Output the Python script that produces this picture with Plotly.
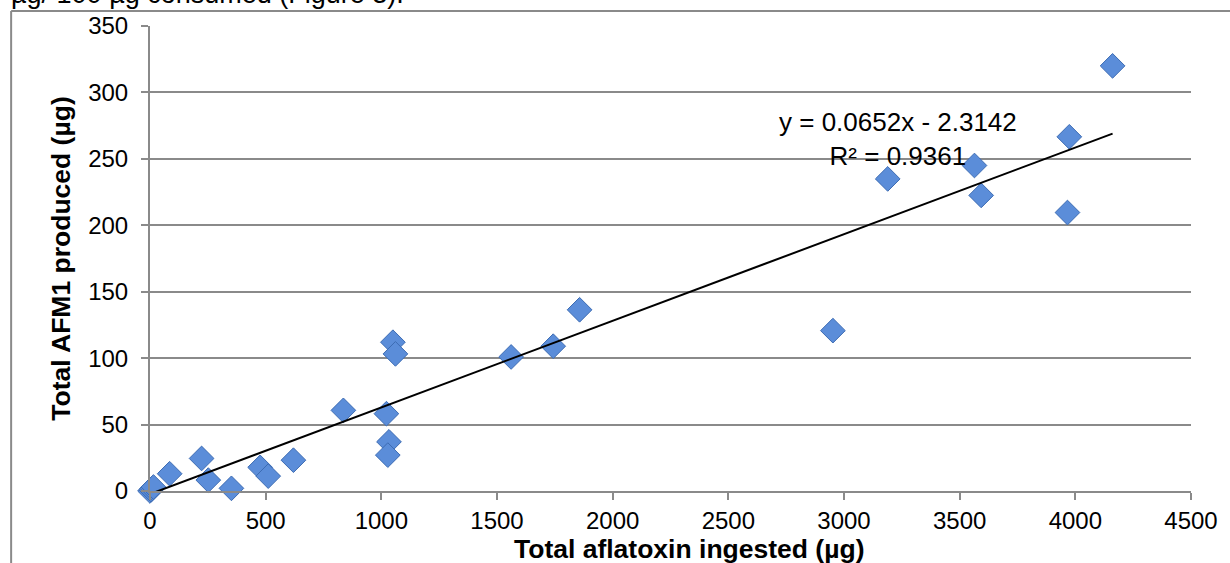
import plotly.graph_objects as go

# Data
ingested = [0, 5, 10, 15, 85, 223, 252, 352, 476, 511, 620, 836, 1022, 1033, 1028,
            1050, 1061, 1561, 1743, 1857, 2952, 3189, 3564, 3593, 3966, 3974, 4161]
afm1 = [0, 1, 2, 3, 13, 24.5, 8.2, 2, 17.8, 11.2, 23.2, 60.7, 58.2, 37, 27,
        112, 103.2, 100.9, 109, 136.4, 120.7, 234.9, 245, 222.5, 209.6, 266.6, 320]

slope = 0.0652
intercept = -2.3142
eq_text = "y = 0.0652x - 2.3142<br>R² = 0.9361"

x_ticks = [0, 500, 1000, 1500, 2000, 2500, 3000, 3500, 4000, 4500]
y_ticks = [0, 50, 100, 150, 200, 250, 300, 350]

trend_x = [0, max(ingested)]
trend_y = [slope * v + intercept for v in trend_x]

GRAY = "#8a8a8a"
FONT = "Liberation Sans, Arial, sans-serif"

fig = go.Figure()
fig.add_trace(go.Scatter(
    x=ingested, y=afm1, mode="markers",
    marker=dict(symbol="diamond", size=19, color="#5b8dd9",
                line=dict(color="#3d6cb3", width=1)),
    cliponaxis=False, showlegend=False))
fig.add_trace(go.Scatter(
    x=trend_x, y=trend_y, mode="lines",
    line=dict(color="black", width=2), showlegend=False, cliponaxis=False))

fig.add_annotation(x=3234, y=265, xref="x", yref="y", text=eq_text,
                   showarrow=False, font=dict(family=FONT, size=26, color="black"),
                   align="center")

# Cropped body text at the top of the page
fig.add_annotation(x=-0.135, y=1.068, xref="paper", yref="paper",
                   text="µg/ 100 µg consumed (Figure 3).", showarrow=False,
                   xanchor="left", yanchor="middle",
                   font=dict(family=FONT, size=27, color="black"))

# X axis title
fig.add_annotation(x=0.518, y=-0.124, xref="paper", yref="paper",
                   text="<b>Total aflatoxin ingested (µg)</b>", yanchor="middle",
                   showarrow=False, font=dict(family=FONT, size=26.5, color="black"))

# Outer frame of the chart area
fig.add_shape(type="line", xref="paper", yref="paper", x0=-0.1334, x1=-0.1334,
              y0=1.0321, y1=-0.16, line=dict(color=GRAY, width=2))
fig.add_shape(type="line", xref="paper", yref="paper", x0=-0.1334, x1=1.04,
              y0=1.0321, y1=1.0321, line=dict(color=GRAY, width=2))

fig.update_xaxes(range=[0, 4500], tickvals=x_ticks, showgrid=False, zeroline=False,
                 showline=True, linecolor=GRAY, linewidth=2, ticks="outside",
                 tickcolor=GRAY, ticklen=7, tickwidth=2,
                 tickfont=dict(family=FONT, size=24, color="black"))
fig.update_yaxes(range=[0, 350], tickvals=y_ticks, showgrid=True, gridcolor=GRAY,
                 gridwidth=1.5, zeroline=False, showline=True, linecolor=GRAY,
                 linewidth=2, ticks="outside", tickcolor=GRAY, ticklen=7, tickwidth=2,
                 ticklabelstandoff=8,
                 tickfont=dict(family=FONT, size=24, color="black"),
                 title=dict(text="<b>Total AFM1 produced (µg)</b>", standoff=10,
                            font=dict(family=FONT, size=26.5, color="black")))

fig.update_layout(width=1230, height=563, plot_bgcolor="white", paper_bgcolor="white",
                  margin=dict(l=150, r=38, t=24, b=72))

fig.write_html("out.html", config={"displayModeBar": False},
               post_script="document.body.style.margin='0';")
